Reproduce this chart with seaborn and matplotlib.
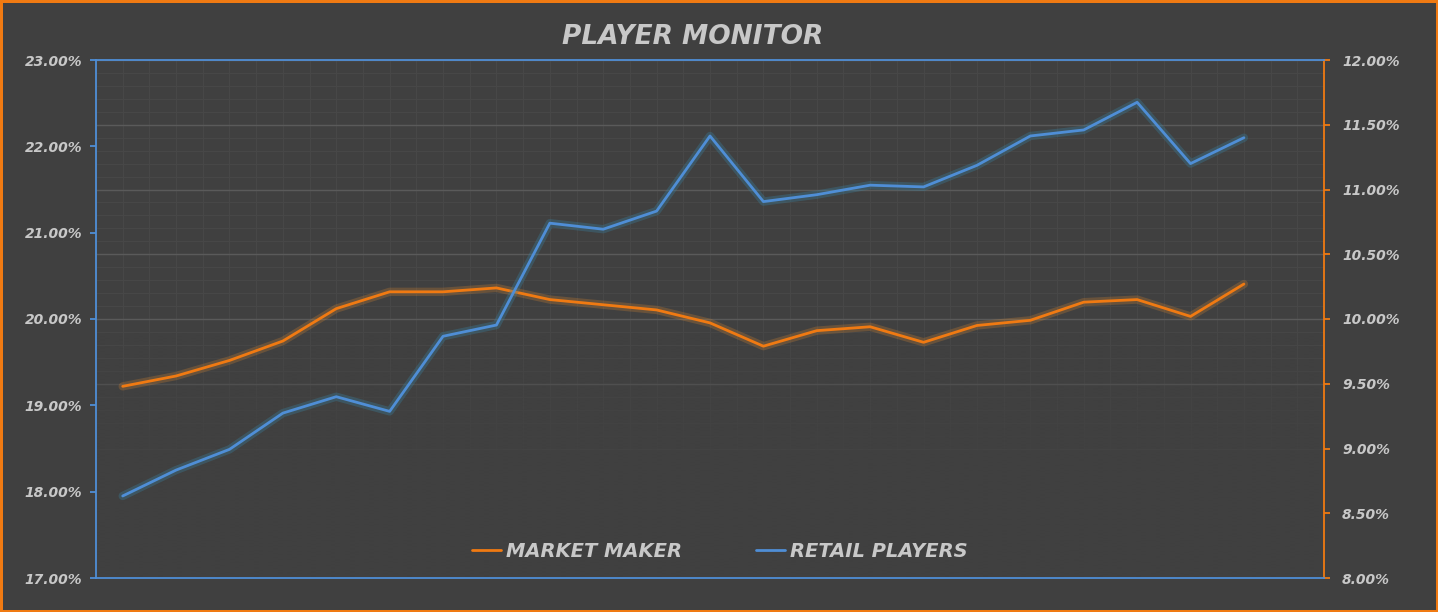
import matplotlib
matplotlib.use("Agg")
import matplotlib.pyplot as plt
import matplotlib.patheffects as pe
from matplotlib.ticker import PercentFormatter, MultipleLocator
from matplotlib.colors import to_rgb
import seaborn as sns
import numpy as np
import pandas as pd

# ---- data ----
periods = list(range(22))
market_maker = [9.48, 9.56, 9.68, 9.83, 10.08, 10.21, 10.21, 10.24, 10.15, 10.11, 10.07,
                9.97, 9.79, 9.91, 9.94, 9.82, 9.95, 9.99, 10.13, 10.15, 10.02, 10.27]
retail_players = [17.95, 18.25, 18.49, 18.91, 19.10, 18.93, 19.80, 19.93, 21.11, 21.04, 21.25,
                  22.12, 21.36, 21.44, 21.55, 21.53, 21.78, 22.12, 22.19, 22.51, 21.80, 22.10]
series_names = ["MARKET MAKER", "RETAIL PLAYERS"]
title_text = "PLAYER MONITOR"

BG = "#404040"
ORANGE = "#F07A12"
BLUE = "#4F8ED6"
TXT = "#C8C8C8"

sns.set_theme(style="dark")
plt.rcParams["font.family"] = ["DejaVu Sans"]

df = pd.DataFrame({"period": periods, "mm": market_maker, "rp": retail_players})

fig = plt.figure(figsize=(14.38, 6.12), dpi=100)
fig.patch.set_facecolor(BG)
fig.patch.set_edgecolor(ORANGE)
fig.patch.set_linewidth(2.5)

ax = fig.add_axes([96/1438, 1-578/612, (1324-96)/1438, (578-60)/612])
ax2 = ax.twinx()
ax.set_facecolor(BG)
ax2.set_facecolor(BG)
ax2.patch.set_visible(True)
# left axis drawn on top of right axis
ax.set_zorder(ax2.get_zorder() + 1)
ax.patch.set_visible(False)

glow_b = [pe.Stroke(linewidth=6, foreground="#3a7f9c", alpha=0.35), pe.Normal()]
glow_o = [pe.Stroke(linewidth=6, foreground="#e08a30", alpha=0.25), pe.Normal()]

sns.lineplot(data=df, x="period", y="rp", ax=ax, color=BLUE, linewidth=2.0,
             label=series_names[1], legend=False)
sns.lineplot(data=df, x="period", y="mm", ax=ax2, color=ORANGE, linewidth=2.0,
             label=series_names[0], legend=False)
ax.lines[0].set_path_effects(glow_b)
ax2.lines[0].set_path_effects(glow_o)
ax2.lines[0].set_zorder(3)

ax.set_xlim(-0.5, 22.5)
ax.set_ylim(17, 23)
ax2.set_ylim(8, 12)

ax.yaxis.set_major_locator(MultipleLocator(1))
ax2.yaxis.set_major_locator(MultipleLocator(0.5))
ax2.yaxis.set_minor_locator(MultipleLocator(0.1))
ax.yaxis.set_major_formatter(PercentFormatter(decimals=2))
ax2.yaxis.set_major_formatter(PercentFormatter(decimals=2))

# grids (all on the right/secondary axes so they can fade out at the bottom)
ax.grid(False)
ax2.grid(False)
ax2.set_axisbelow(True)
ax2.yaxis.grid(True, which="major", color="#5a5a5a", linewidth=1.0)
ax2.yaxis.grid(True, which="minor", color="#474747", linewidth=0.8)
ax2.xaxis.set_visible(True)
ax2.xaxis.set_minor_locator(MultipleLocator(0.5))
ax2.xaxis.set_major_locator(MultipleLocator(1))
ax2.xaxis.grid(True, which="both", color="#474747", linewidth=0.8)
ax2.tick_params(axis="x", which="both", length=0, labelbottom=False, labeltop=False)
ax.tick_params(axis="x", which="both", length=0, labelbottom=False)
ax.set_xlabel("")
ax2.set_xlabel("")
ax.set_ylabel("")
ax2.set_ylabel("")

# fade of the grid towards the bottom of the plot area
r, g, b = to_rgb(BG)
ramp = np.linspace(0, 1, 256)
y0, y1 = 1 - (470 - 60) / 518, 1 - (330 - 60) / 518  # axes fractions
alpha = np.clip((y1 - np.linspace(0, 1, 256)) / (y1 - y0), 0, 1)
img = np.zeros((256, 1, 4))
img[:, 0, 0], img[:, 0, 1], img[:, 0, 2] = r, g, b
img[:, 0, 3] = alpha
ax2.imshow(img, extent=[0, 1, 0, 1], origin="lower", transform=ax2.transAxes,
           aspect="auto", zorder=1, interpolation="bilinear")
ax2.set_xlim(-0.5, 22.5)
ax2.set_ylim(8, 12)

# spines
for s in ["left", "top", "bottom"]:
    ax.spines[s].set_visible(True)
    ax.spines[s].set_color(BLUE)
    ax.spines[s].set_linewidth(1.3)
ax.spines["right"].set_visible(False)
for s in ["left", "top", "bottom"]:
    ax2.spines[s].set_visible(False)
ax2.spines["right"].set_visible(True)
ax2.spines["right"].set_color(ORANGE)
ax2.spines["right"].set_linewidth(1.3)

ax.tick_params(axis="y", which="major", direction="out", length=4, width=1.3,
               color=BLUE, labelcolor=TXT, pad=6, left=True)
ax2.tick_params(axis="y", which="major", direction="out", length=4, width=1.3,
                color=ORANGE, labelcolor=TXT, pad=9, right=True)
ax2.tick_params(axis="y", which="minor", length=0)
for lab in ax.get_yticklabels() + ax2.get_yticklabels():
    lab.set_fontstyle("italic")
    lab.set_fontweight("bold")
    lab.set_fontsize(10)

# legend
handles = [ax2.lines[0], ax.lines[0]]
leg = ax.legend(handles, series_names, loc="center", bbox_to_anchor=(0.508, 0.052),
                ncol=2, frameon=False, handlelength=1.5, handletextpad=0.25,
                columnspacing=3.8,
                prop=dict(family="DejaVu Sans", style="italic", weight="bold", size=14))
for t in leg.get_texts():
    t.set_color(TXT)
for h in leg.legend_handles:
    h.set_path_effects([])
    h.set_linewidth(2.0)

fig.text(693/1438, 1-37/612, title_text, ha="center", va="center", color=TXT,
         fontsize=19, fontstyle="italic", fontweight="bold", family="DejaVu Sans")

fig.savefig("out.png", dpi=100, facecolor=BG, edgecolor=ORANGE)
